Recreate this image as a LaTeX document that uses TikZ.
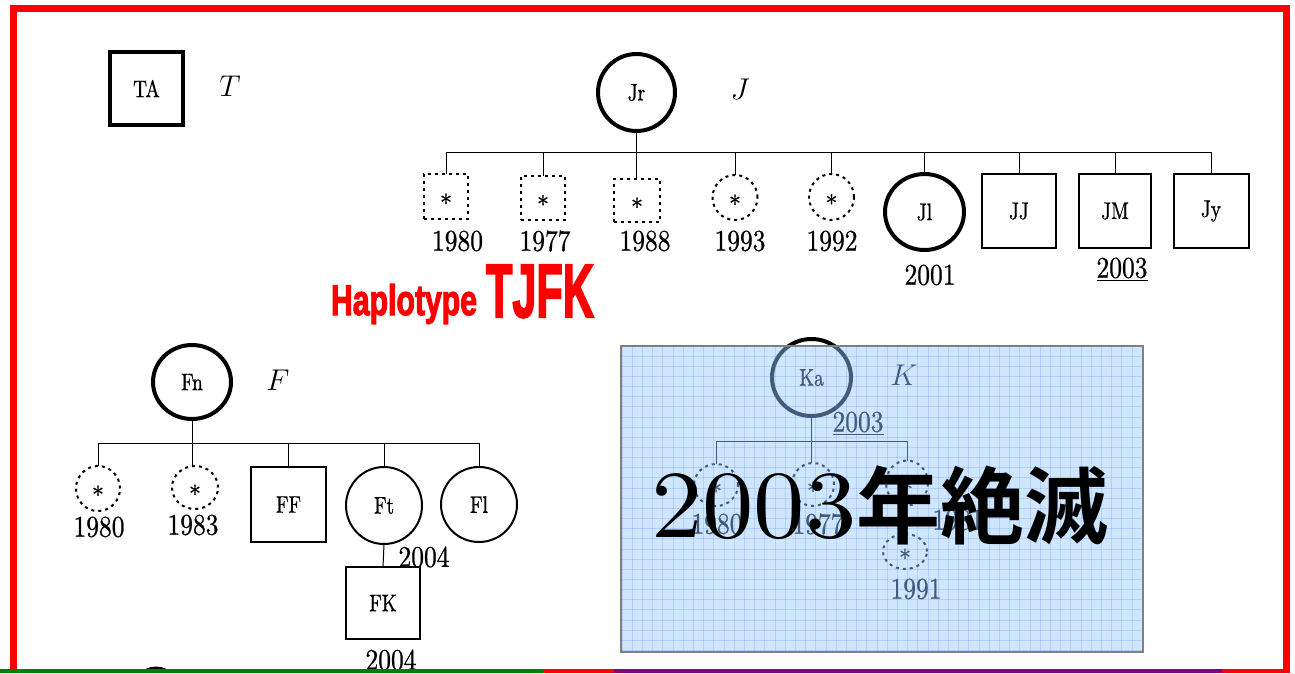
\RequirePackage{fix-cm}
\documentclass[tikz,border=0pt]{standalone}
\usepackage{fontspec}
\usepackage{graphicx}
\usetikzlibrary{shapes.geometric}
\newfontfamily\labf[FakeStretch=0.85,FakeBold=0.8]{lmroman10-regular.otf}
\newfontfamily\inlabf[FakeStretch=0.8,FakeBold=0.8]{lmroman10-regular.otf}
\newfontfamily\starf[FakeBold=1]{lmroman10-regular.otf}
\newfontfamily\bigdig[FakeStretch=1.07]{lmroman10-regular.otf}
\newfontfamily\hapf[FakeBold=3]{Liberation Sans}
\newfontfamily\cjk{Noto Sans CJK JP Bold}
\newcommand\dstar{\raisebox{-15pt}[0pt][0pt]{*}}
\newcommand\lft[1]{#1\hspace{12pt}}
\definecolor{framered}{RGB}{255,0,0}
\definecolor{boxfill}{RGB}{150,200,255}
\definecolor{gridc}{RGB}{60,140,255}
\definecolor{boxedge}{RGB}{128,128,128}
\definecolor{stripgreen}{RGB}{0,128,0}
\definecolor{strippurple}{RGB}{128,0,128}
\begin{document}
\begin{tikzpicture}[x=1pt,y=-1pt,
  every node/.style={inner sep=0pt,outer sep=0pt},
  lab/.style={font=\inlabf\fontsize{24}{24}\selectfont},
  yr/.style={font=\labf\fontsize{30}{30}\selectfont},
  ital/.style={font=\fontsize{30}{30}\selectfont},
  bigov/.style={ellipse,draw,line width=4pt,lab},
  thinov/.style={ellipse,draw,line width=2pt,lab},
  thicksq/.style={rectangle,draw,line width=4pt,lab},
  sq/.style={rectangle,draw,line width=2pt,lab},
  dashsq/.style={rectangle,draw,line width=2pt,dash pattern=on 3pt off 4pt,font=\starf\fontsize{24}{24}\selectfont},
  dashov/.style={ellipse,draw,line width=2pt,dash pattern=on 3pt off 4pt,font=\starf\fontsize{24}{24}\selectfont},
  link/.style={line width=1pt},
  sz/.style 2 args={minimum width=#1pt,minimum height=#2pt},
  gridline/.style={gridc,draw opacity=0.22,line width=1pt},
]
\useasboundingbox (0,0) rectangle (1295,673);

% frame
\draw[framered,line width=7pt] (13,673) -- (13,8.5) -- (1286.5,8.5) -- (1286.5,673);

% T
\node[thicksq,sz={73}{73}] (TA) at (146.5,88.5) {TA};
\node[ital] (Tl) at (230,86) {$T$};

% J family
\node[bigov,sz={77}{77}] (Jr) at (636.5,92.5) {\lft{Jr}};
\node[ital] (Jlab) at (740,89) {$J$};
\node[dashsq,sz={44}{45}] (j1) at (446,196.5) {\dstar};
\node[dashsq,sz={44}{44}] (j2) at (543,198) {\dstar};
\node[dashsq,sz={46}{43}] (j3) at (637,200.5) {\dstar};
\node[dashov,sz={45}{45}] (j4) at (735,197.5) {\dstar};
\node[dashov,sz={45}{46}] (j5) at (831.5,197) {\dstar};
\node[bigov,sz={79}{76}] (Jl) at (924.5,212) {\lft{Jl}};
\node[sq,sz={74}{74}] (JJ) at (1019,211) {JJ};
\node[sq,sz={72}{74}] (JM) at (1115,211) {JM};
\node[sq,sz={75}{74}] (Jy) at (1211,211) {\lft{Jy}};
\node[yr] (jy1) at (457.5,241) {1980};
\node[yr] (jy2) at (545,241) {1977};
\node[yr] (jy3) at (645,241) {1988};
\node[yr] (jy4) at (740,241) {1993};
\node[yr] (jy5) at (832,241) {1992};
\node[yr] (jy6) at (930,275) {2001};
\node[yr] (jy7) at (1122,269) {\underline{2003}};
\coordinate (jbar) at (0,152.5);
\draw[link] (j1.north) |- (Jy.north |- jbar) -- (Jy.north);
\foreach \n in {j2,j4,j5,Jl,JJ,JM}{\draw[link] (\n.north) -- (\n.north |- jbar);}
\draw[link] (Jr.south) -- (Jr.south |- j3.north);

% Haplotype
\node[anchor=base west,text=framered] (hap) at (331,315) {\resizebox{146pt}{31pt}{\hapf\bfseries Haplotype}};
\node[anchor=base west,text=framered] (tjfk) at (486,317) {\resizebox{108pt}{52pt}{\hapf\bfseries TJFK}};

% F family
\node[bigov,sz={78}{74}] (Fn) at (192,382) {Fn};
\node[ital] (Flab) at (278,380) {$F$};
\node[dashov,sz={44}{45}] (f1) at (98,488.5) {\dstar};
\node[dashov,sz={46}{43}] (f2) at (195,487.5) {\dstar};
\node[sq,sz={75}{75}] (FF) at (288.5,504.5) {FF};
\node[thinov,sz={76}{77}] (Ft) at (384,505.5) {\lft{Ft}};
\node[thinov,sz={76}{75}] (Fl) at (479,504.5) {\lft{Fl}};
\node[sq,sz={74}{72}] (FK) at (383,603) {FK};
\node[yr] (fy1) at (99,527) {1980};
\node[yr] (fy2) at (193,525) {1983};
\node[yr] (fy3) at (424,557) {2004};
\node[yr] (fy4) at (391,660) {2004};
\coordinate (fbar) at (0,443);
\draw[link] (f1.north) |- (Fl.north |- fbar) -- (Fl.north);
\foreach \n in {FF,Ft}{\draw[link] (\n.north) -- (\n.north |- fbar);}
\draw[link] (Fn.south) -- (Fn.south |- f2.north);
\draw[link] (Ft.south) -- (FK.north);

% K family (under the overlay)
\node[bigov,sz={79}{77}] (Ka) at (811.5,377.5) {\lft{Ka}};
\node[ital] (Klab) at (904,375) {$K$};
\node[yr] (ky0) at (858,423) {\underline{2003}};
\node[dashov,sz={44}{42}] (k1) at (716,485) {\dstar};
\node[dashov,sz={42}{43}] (k2) at (813,484.5) {\dstar};
\node[dashov,sz={42}{45}] (k3) at (907,483) {\dstar};
\node[dashov,sz={44}{35}] (k4) at (905,551.5) {\dstar};
\node[yr] (ky1) at (717,524) {1980};
\node[yr] (ky2) at (818,524) {1977};
\node[yr] (ky3) at (958,520) {1981};
\node[yr] (ky4) at (916,589) {1991};
\coordinate (kbar) at (0,441);
\draw[link] (k1.north) |- (k3.north |- kbar) -- (k3.north);
\draw[link] (Ka.south) -- (Ka.south |- k2.north);

% overlay box
\fill[boxfill,fill opacity=0.45] (621,345.5) rectangle (1142.5,651.5);
\foreach \i in {0,...,51}{\draw[gridline] ({622+10.2*\i},346) -- ({622+10.2*\i},651);}
\foreach \j in {0,...,30}{\draw[gridline] (621,{346+10.15*\j}) -- (1142,{346+10.15*\j});}
\draw[boxedge,line width=2pt] (621,345.5) rectangle (1142.5,651.5);
\node[anchor=base west] (extinct) at (651,537) {{\bigdig\fontsize{96}{96}\selectfont 2003}{\cjk\fontsize{84}{84}\selectfont 年絶滅}};

% partly visible shape at the bottom edge
\draw[line width=3pt] (156,690) ++(245:22) arc (245:295:22);

% bottom strip
\fill[stripgreen] (0,669) rectangle (543,673);
\fill[framered] (543,669) rectangle (614,673);
\fill[strippurple] (614,669) rectangle (1222,673);
\fill[framered] (1222,669) rectangle (1290,673);
\end{tikzpicture}
\end{document}
